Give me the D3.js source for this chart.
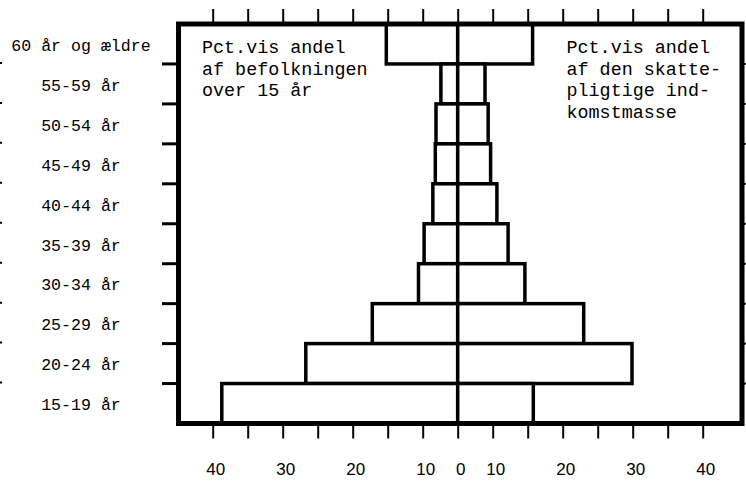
<!DOCTYPE html>
<html>
<head>
<meta charset="utf-8">
<script src="https://cdnjs.cloudflare.com/ajax/libs/d3/7.8.5/d3.min.js"></script>
<style>
  body { margin: 0; background: #fff; }
  svg { display: block; }
</style>
</head>
<body>
<svg width="746" height="483"></svg>
<script>
// aldersgrupper, oeverst foerst som i figuren
var ageGroups = ["60 år og ældre", "55-59 år", "50-54 år", "45-49 år", "40-44 år",
                 "35-39 år", "30-34 år", "25-29 år", "20-24 år", "15-19 år"];
// venstre side: pct. af befolkningen over 15 aar
var popShare = [15.2, 4.8, 6.2, 6.4, 7.1, 9.6, 10.6, 17.2, 26.7, 38.7];
// hoejre side: pct. af den skattepligtige indkomstmasse
var incomeShare = [15.7, 7.8, 8.7, 9.4, 10.6, 12.2, 14.6, 23.0, 29.9, 15.8];
// akse
var tickVals = [-40, -35, -30, -25, -20, -15, -10, 0, 10, 15, 20, 25, 30, 35, 40];
var labelVals = [-40, -30, -20, -10, 0, 10, 20, 30, 40];
var leftText = ["Pct.vis andel", "af befolkningen", "over 15 år"];
var rightText = ["Pct.vis andel", "af den skatte-", "pligtige ind-", "komstmasse"];

var svg = d3.select("svg"),
    frameL = 178.5, frameR = 742, frameT = 24, frameB = 423.5,
    cx = 457.7;

// skalaen i figuren er ikke helt lineaer: 0-10 fylder et halvt interval
var x = d3.scaleLinear()
          .domain([-40, -10, 0, 10, 40])
          .range([cx - 245, cx - 35, cx, cx + 35, cx + 245]);

var y = d3.scaleBand()
          .domain(ageGroups)
          .range([frameT, frameB])
          .padding(0);

var rows = ageGroups.map(function(a, i) {
    return {age: a, pop: popShare[i], inc: incomeShare[i]};
});

// top ticks
var topAxis = d3.axisTop(x).tickValues(tickVals).tickSize(14).tickFormat("");
svg.append("g")
   .attr("transform", "translate(0," + (frameT - 1) + ")")
   .call(topAxis)
   .call(function(g) { g.select(".domain").remove(); })
   .selectAll("line").attr("stroke", "#000").attr("stroke-width", 2);

// bund ticks + tal
var botAxis = d3.axisBottom(x).tickValues(tickVals).tickSize(13).tickPadding(24.5)
                .tickFormat(function(d) { return labelVals.indexOf(d) >= 0 ? Math.abs(d) : ""; });
var gb = svg.append("g")
   .attr("transform", "translate(0," + (frameB + 2) + ")")
   .call(botAxis)
   .call(function(g) { g.select(".domain").remove(); });
gb.selectAll("line").attr("stroke", "#000").attr("stroke-width", 2);
gb.selectAll("text")
  .attr("dx", 2.5)
  .attr("fill", "#000")
  .style("font-family", "'Liberation Sans', Arial, sans-serif")
  .style("font-size", "17px");

// raekkegraenser: ticks til venstre, smaa stumper til hoejre og ved kanten
var bounds = ageGroups.slice(1).map(function(a) { return y(a); });
svg.selectAll(".lt").data(bounds).enter().append("line")
   .attr("x1", 162).attr("x2", frameL)
   .attr("y1", function(d) { return d; }).attr("y2", function(d) { return d; })
   .attr("stroke", "#000").attr("stroke-width", 3);
svg.selectAll(".rt").data(bounds).enter().append("line")
   .attr("x1", frameR).attr("x2", 746)
   .attr("y1", function(d) { return d; }).attr("y2", function(d) { return d; })
   .attr("stroke", "#000").attr("stroke-width", 2);
svg.selectAll(".et").data(bounds).enter().append("line")
   .attr("x1", 0).attr("x2", 2)
   .attr("y1", function(d) { return d - 1; }).attr("y2", function(d) { return d - 1; })
   .attr("stroke", "#000").attr("stroke-width", 2);

// soejler
var bar = svg.selectAll(".row").data(rows).enter().append("g").attr("class", "row");
bar.append("rect")
   .attr("x", function(d) { return x(-d.pop); })
   .attr("y", function(d) { return y(d.age); })
   .attr("width", function(d) { return cx - x(-d.pop); })
   .attr("height", y.bandwidth())
   .attr("fill", "#fff").attr("stroke", "#000").attr("stroke-width", 3.5);
bar.append("rect")
   .attr("x", cx)
   .attr("y", function(d) { return y(d.age); })
   .attr("width", function(d) { return x(d.inc) - cx; })
   .attr("height", y.bandwidth())
   .attr("fill", "#fff").attr("stroke", "#000").attr("stroke-width", 3.5);

// midterlinje
svg.append("line")
   .attr("x1", cx).attr("x2", cx).attr("y1", frameT).attr("y2", frameB)
   .attr("stroke", "#000").attr("stroke-width", 2.2);

// ramme
svg.append("rect")
   .attr("x", frameL).attr("y", frameT)
   .attr("width", frameR - frameL).attr("height", frameB - frameT)
   .attr("fill", "none").attr("stroke", "#000").attr("stroke-width", 5);

// aldersgrupper
svg.selectAll(".age").data(ageGroups).enter().append("text")
   .attr("x", 81)
   .attr("y", function(d) { return y(d) + y.bandwidth() / 2 + 1; })
   .attr("dy", "0.35em")
   .attr("text-anchor", "middle")
   .style("font-family", "'Liberation Mono', 'Courier New', monospace")
   .style("font-size", "16.6px")
   .text(function(d) { return d; });

// forklarende tekst i rammen
function block(lines, x0) {
    svg.append("g").selectAll("text").data(lines).enter().append("text")
       .attr("x", x0)
       .attr("y", function(d, i) { return 53 + i * 21.5; })
       .style("font-family", "'Liberation Mono', 'Courier New', monospace")
       .style("font-size", "18.4px")
       .text(function(d) { return d; });
}
block(leftText, 202);
block(rightText, 566.5);
</script>
</body>
</html>
